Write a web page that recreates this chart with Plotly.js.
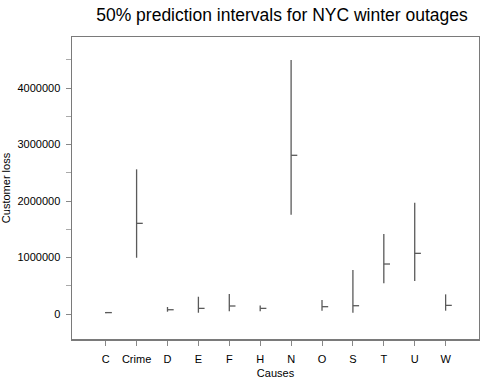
<!DOCTYPE html>
<html>
<head>
<meta charset="utf-8">
<script src="https://cdn.plot.ly/plotly-3.0.1.min.js"></script>
<style>html,body{margin:0;padding:0;background:#fff;}#chart{width:480px;height:379px;}</style>
</head>
<body>
<div id="chart"></div>
<script>
const causes = ["C","Crime","D","E","F","H","N","O","S","T","U","W"];
const lowVals  = [15000, 996000, 41000, 23000, 47000, 47000, 1758000, 59000, 23000, 543000, 584000, 59000];
const highVals = [35000, 2561000, 124000, 306000, 354000, 153000, 4496000, 248000, 779000, 1416000, 1970000, 348000];
const midVals  = [25000, 1605000, 76000, 100000, 142000, 100000, 2809000, 130000, 147000, 885000, 1074000, 153000];
const yTickVals = [0, 1000000, 2000000, 3000000, 4000000];
const yTickText = ["0","1000000","2000000","3000000","4000000"];

const tickW = 0.2;
const xs = [], ys = [];
causes.forEach((c, i) => {
  const p = i + 1;
  xs.push(p, p, null, p, p + tickW, null);
  ys.push(lowVals[i], highVals[i], null, midVals[i], midVals[i], null);
});

const trace = {
  x: xs, y: ys, type: 'scatter', mode: 'lines',
  line: {color: '#5a5a5a', width: 1.3},
  hoverinfo: 'skip', showlegend: false
};

const font = {family: 'Liberation Sans, Arial, sans-serif', color: '#000'};
const layout = {
  width: 480, height: 379,
  margin: {l: 72, r: 1, t: 37, b: 40},
  paper_bgcolor: '#fff', plot_bgcolor: '#fff',
  font: Object.assign({size: 11}, font),
  title: {text: '50% prediction intervals for NYC winter outages',
          font: Object.assign({size: 17.5}, font),
          x: 282/480, xanchor: 'center', y: 1 - 15/379, yanchor: 'middle'},
  xaxis: {
    range: [-0.09, 13.08], showgrid: false, zeroline: false,
    tickmode: 'array', tickvals: causes.map((c, i) => i + 1), ticktext: causes,
    ticks: 'outside', ticklen: 5, tickcolor: '#888', tickwidth: 1,
    ticklabelstandoff: 4,
    showline: true, linecolor: '#7a7a7a', linewidth: 1.5, mirror: true,
    tickfont: Object.assign({size: 11}, font),
    title: {text: 'Causes', font: Object.assign({size: 11}, font), standoff: 9}
  },
  yaxis: {
    range: [-442000, 4903000], showgrid: false, zeroline: false,
    tickmode: 'array', tickvals: yTickVals, ticktext: yTickText,
    ticks: 'outside', ticklen: 5, tickcolor: '#888', tickwidth: 1,
    ticklabelstandoff: 3,
    minor: {dtick: 500000, tick0: 0, ticks: 'outside', ticklen: 5, tickcolor: '#aaa', tickwidth: 1, showgrid: false},
    showline: true, linecolor: '#7a7a7a', linewidth: 1.5, mirror: true,
    tickfont: Object.assign({size: 11}, font),
    title: {text: 'Customer loss', font: Object.assign({size: 11}, font), standoff: 6}
  }
};

Plotly.newPlot('chart', [trace], layout, {displayModeBar: false, staticPlot: true});
</script>
</body>
</html>
